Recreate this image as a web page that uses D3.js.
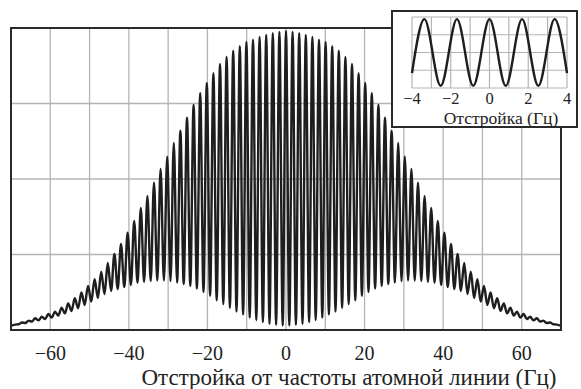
<!DOCTYPE html>
<html>
<head>
<meta charset="utf-8">
<script src="https://cdn.jsdelivr.net/npm/d3@7"></script>
<style>
  html, body { margin: 0; padding: 0; background: #fff; }
  svg text { font-family: "Liberation Serif", "Times New Roman", serif; fill: #222; }
</style>
</head>
<body>
<div id="chart"></div>
<script>
// fringe spacing (Hz)
const fringePeriod = 1.68;

// peak heights of the Ramsey fringes, n = 0, 1, 2 ... periods away from the line centre
const peakValues = [
  0.990, 0.987, 0.983, 0.977, 0.970, 0.961, 0.954, 0.940, 0.925, 0.904,
  0.881, 0.850, 0.818, 0.784, 0.745, 0.703, 0.660, 0.619, 0.574, 0.533,
  0.488, 0.444, 0.404, 0.361, 0.322, 0.285, 0.252, 0.222, 0.193, 0.168,
  0.146, 0.124, 0.105, 0.088, 0.074, 0.061, 0.053, 0.044, 0.039, 0.031,
  0.025, 0.018
];
// trough heights, n + 0.5 periods away from the centre
const troughValues = [
  0.015, 0.017, 0.020, 0.026, 0.033, 0.041, 0.051, 0.061, 0.073, 0.086,
  0.098, 0.113, 0.126, 0.137, 0.146, 0.152, 0.157, 0.162, 0.164, 0.164,
  0.162, 0.159, 0.156, 0.149, 0.142, 0.136, 0.129, 0.119, 0.106, 0.094,
  0.083, 0.072, 0.063, 0.055, 0.048, 0.041, 0.036, 0.032, 0.028, 0.023,
  0.019, 0.015
];
const edgeValue = 0.013;   // curve height at ±70 Hz

const xTicks = [-60, -40, -20, 0, 20, 40, 60];
const xGrid = [-60, -50, -40, -30, -20, -10, 0, 10, 20, 30, 40, 50, 60];
const yGrid = [0.25, 0.5, 0.75];

// inset: a few central fringes, extrema
const insetX = [-4, -3.36, -2.52, -1.68, -0.84, 0, 0.84, 1.68, 2.52, 3.36, 4];
const insetY = [0.21, 0.97, 0.03, 0.97, 0.03, 0.97, 0.03, 0.97, 0.03, 0.97, 0.21];
const insetTicks = [-4, -2, 0, 2, 4];
const insetGridX = [-4, -3, -2, -1, 0, 1, 2, 3, 4];
const insetGridY = [0, 0.25, 0.5, 0.75, 1];

const W = 581, H = 389;
const svg = d3.select('#chart').append('svg')
  .attr('width', W).attr('height', H);

const fmt = d3.format('d');

// main plot
const x = d3.scaleLinear().domain([-70, 70]).range([11, 561]);
const y = d3.scaleLinear().domain([0, 1]).range([330, 28]);

// build the fringe points: peaks at n*period, troughs in between (pattern is symmetric)
const half = [];
peakValues.forEach((v, i) => half.push({ f: i * fringePeriod, v: v }));
troughValues.forEach((v, i) => half.push({ f: (i + 0.5) * fringePeriod, v: v }));
half.push({ f: 70, v: edgeValue });
const fringeData = half.filter(d => d.f > 0).map(d => ({ f: -d.f, v: d.v }))
  .concat(half)
  .sort((a, b) => a.f - b.f);

svg.append('g').selectAll('line').data(xGrid).join('line')
  .attr('x1', d => x(d)).attr('x2', d => x(d))
  .attr('y1', y(0)).attr('y2', y(1))
  .attr('stroke', '#b4b4b4').attr('stroke-width', 1.3);

svg.append('g').selectAll('line').data(yGrid).join('line')
  .attr('x1', x(-70)).attr('x2', x(70))
  .attr('y1', d => y(d)).attr('y2', d => y(d))
  .attr('stroke', '#b4b4b4').attr('stroke-width', 1.3);

const line = d3.line()
  .x(d => x(d.f))
  .y(d => y(d.v))
  .curve(d3.curveMonotoneX);

svg.append('path')
  .datum(fringeData)
  .attr('fill', 'none')
  .attr('stroke', '#1e1e1e')
  .attr('stroke-width', 2.4)
  .attr('stroke-linejoin', 'round')
  .attr('d', line);

svg.append('rect')
  .attr('x', x(-70)).attr('y', y(1))
  .attr('width', x(70) - x(-70)).attr('height', y(0) - y(1))
  .attr('fill', 'none').attr('stroke', '#2a2a2a').attr('stroke-width', 2);

// x tick labels
svg.append('g').selectAll('text').data(xTicks).join('text')
  .attr('x', d => x(d))
  .attr('y', 360)
  .attr('text-anchor', 'middle')
  .style('font-size', '20px')
  .text(d => fmt(d));

svg.append('text')
  .attr('x', 349)
  .attr('y', 385)
  .attr('text-anchor', 'middle')
  .style('font-size', '23px')
  .text('Отстройка от частоты атомной линии (Гц)');

// inset
const inset = svg.append('g');
inset.append('rect')
  .attr('x', 392).attr('y', 11)
  .attr('width', 185).attr('height', 116)
  .attr('fill', '#fff').attr('stroke', '#2a2a2a').attr('stroke-width', 2);

const ix = d3.scaleLinear().domain([-4, 4]).range([412, 567]);
const iy = d3.scaleLinear().domain([0, 1]).range([88, 17]);

inset.append('g').selectAll('line').data(insetGridX).join('line')
  .attr('x1', d => ix(d)).attr('x2', d => ix(d))
  .attr('y1', iy(0)).attr('y2', iy(1))
  .attr('stroke', '#b4b4b4').attr('stroke-width', 1.2);
inset.append('g').selectAll('line').data(insetGridY).join('line')
  .attr('x1', ix(-4)).attr('x2', ix(4))
  .attr('y1', d => iy(d)).attr('y2', d => iy(d))
  .attr('stroke', '#b4b4b4').attr('stroke-width', 1.2);

const insetLine = d3.line()
  .x((d, i) => ix(insetX[i]))
  .y(d => iy(d))
  .curve(d3.curveMonotoneX);

inset.append('path')
  .datum(insetY)
  .attr('fill', 'none')
  .attr('stroke', '#1e1e1e')
  .attr('stroke-width', 2.4)
  .attr('d', insetLine);

inset.append('g').selectAll('text').data(insetTicks).join('text')
  .attr('x', d => ix(d))
  .attr('y', 104)
  .attr('text-anchor', 'middle')
  .style('font-size', '16.5px')
  .text(d => fmt(d));

inset.append('text')
  .attr('x', 501)
  .attr('y', 124)
  .attr('text-anchor', 'middle')
  .style('font-size', '17.5px')
  .text('Отстройка (Гц)');
</script>
</body>
</html>
